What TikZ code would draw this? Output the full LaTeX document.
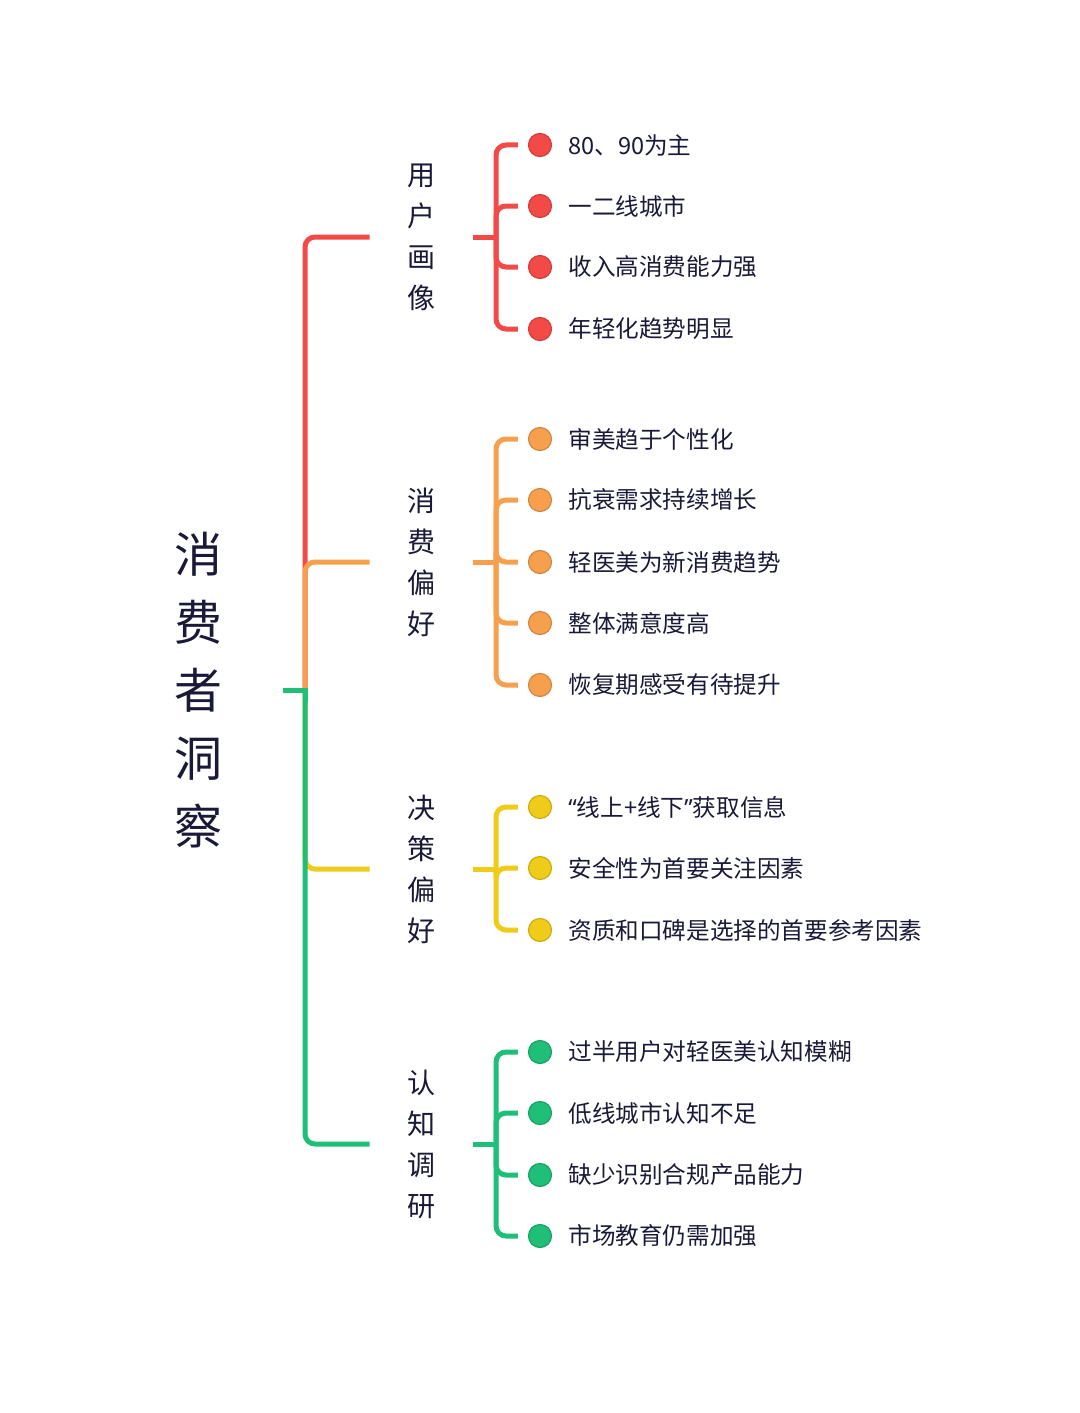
\documentclass[tikz,border=0pt]{standalone}
\usepackage{fontspec}
\setmainfont{Noto Sans CJK SC}
\newfontfamily\latinquote{Noto Sans}
\definecolor{cred}{HTML}{F24B47}
\definecolor{cora}{HTML}{F6A04D}
\definecolor{cyel}{HTML}{EFCB1A}
\definecolor{cgrn}{HTML}{1FBF78}
\definecolor{ctxt}{HTML}{1A1A38}
\begin{document}
\begin{tikzpicture}[x=0.5pt,y=-0.5pt,
  conn/.style={line width=2.5pt,rounded corners=5pt},
  rootnode/.style={align=center,text=ctxt,font=\fontsize{24pt}{34pt}\selectfont,minimum width=85pt,inner sep=0pt},
  l1node/.style={align=center,text=ctxt,font=\fontsize{14pt}{20.5pt}\selectfont,minimum width=51.5pt,inner sep=0pt},
  dotnode/.style={circle,minimum size=11.5pt,inner sep=0pt,line width=0.6pt},
  leaf/.style={anchor=west,text=ctxt,font=\fontsize{11.8pt}{14pt}\selectfont,inner sep=0pt},
  twig/.style={conn,shorten >=5pt}]
\useasboundingbox (0,0) rectangle (1080,1413);
\fill[white] (0,0) rectangle (1080,1413);

\node[rootnode] (root) at (198,690) {消\\费\\者\\洞\\察};
\coordinate (spine) at (305,690);

\node[l1node] (a) at (421.5,237) {用\\户\\画\\像};
\node[l1node] (b) at (421.5,562) {消\\费\\偏\\好};
\node[l1node] (c) at (421.5,869) {决\\策\\偏\\好};
\node[l1node] (d) at (421.5,1144) {认\\知\\调\\研};

\draw[conn,cred] (spine) |- (a.west);
\draw[conn,cora] (spine) |- (b.west);
\draw[conn,cyel] (spine) |- (c.west);
\draw[conn,cgrn] (spine) |- (d.west);
\draw[line width=2.5pt,cgrn] (root.east |- spine) -- (spine) -- ++(0,12);

% red group
\coordinate (aj) at (496,237);
\foreach \i/\y/\t in {1/145/{80、90为主},2/206/{一二线城市},3/267/{收入高消费能力强},4/329/{年轻化趋势明显}}{
  \node[dotnode,fill=cred,draw=cred!85!black] (a\i) at (540,\y) {};
  \node[leaf] (at\i) at (568,\y) {\t};
  \draw[twig,cred] (aj) |- (a\i);
}
\draw[conn,cred] (a.east) -- (aj);

% orange group
\coordinate (bj) at (496,562);
\foreach \i/\y/\t in {1/439/{审美趋于个性化},2/500/{抗衰需求持续增长},3/562/{轻医美为新消费趋势},4/623/{整体满意度高},5/685/{恢复期感受有待提升}}{
  \node[dotnode,fill=cora,draw=cora!85!black] (b\i) at (540,\y) {};
  \node[leaf] (bt\i) at (568,\y) {\t};
  \draw[twig,cora] (bj) |- (b\i);
}
\draw[conn,cora] (b.east) -- (bj);

% yellow group
\coordinate (cj) at (496,869);
\foreach \i/\y/\t in {1/807/{{\latinquote “}线上+线下{\latinquote ”}获取信息},2/868/{安全性为首要关注因素},3/930/{资质和口碑是选择的首要参考因素}}{
  \node[dotnode,fill=cyel,draw=cyel!85!black] (c\i) at (540,\y) {};
  \node[leaf] (ct\i) at (568,\y) {\t};
  \draw[twig,cyel] (cj) |- (c\i);
}
\draw[conn,cyel] (c.east) -- (cj);

% green group
\coordinate (dj) at (496,1144);
\foreach \i/\y/\t in {1/1052/{过半用户对轻医美认知模糊},2/1113/{低线城市认知不足},3/1175/{缺少识别合规产品能力},4/1236/{市场教育仍需加强}}{
  \node[dotnode,fill=cgrn,draw=cgrn!85!black] (d\i) at (540,\y) {};
  \node[leaf] (dt\i) at (568,\y) {\t};
  \draw[twig,cgrn] (dj) |- (d\i);
}
\draw[conn,cgrn] (d.east) -- (dj);
\end{tikzpicture}
\end{document}
